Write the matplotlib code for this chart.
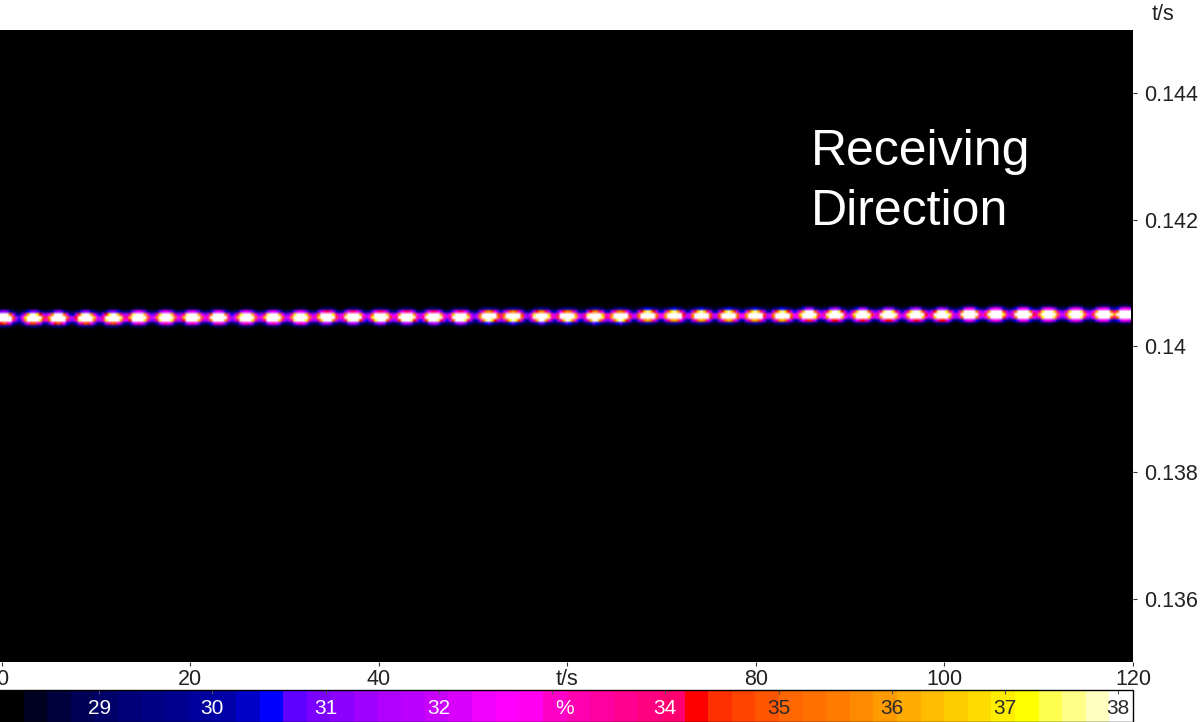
import numpy as np
import matplotlib
matplotlib.use("Agg")
import matplotlib.pyplot as plt
from matplotlib.colors import ListedColormap, Normalize
from matplotlib.cm import ScalarMappable

plt.rcParams['font.family'] = ['Liberation Sans', 'DejaVu Sans']

# blob centres (t/s along the bottom axis)
blob_t = [0.1, 3.2, 5.85, 8.8, 11.7, 14.4, 17.3, 20.1, 22.9, 25.85, 28.7,
          31.6, 34.4, 37.2, 40.1, 42.9, 45.75, 48.6, 51.6, 54.2, 57.2, 60.0,
          62.9, 65.6, 68.5, 71.3, 74.2, 77.1, 79.9, 82.8, 85.6, 88.4, 91.3,
          94.1, 97.0, 99.8, 102.7, 105.5, 108.4, 111.1, 114.0, 116.9, 119.3]
# and where each one sits on the right axis (t/s)
blob_y = [0.14044, 0.14044, 0.14044, 0.14044, 0.14044, 0.14045, 0.14045, 0.14045,
          0.14045, 0.14045, 0.14045, 0.14045, 0.14046, 0.14046, 0.14046, 0.14046,
          0.14046, 0.14046, 0.14047, 0.14047, 0.14047, 0.14047, 0.14047, 0.14047,
          0.14048, 0.14048, 0.14048, 0.14048, 0.14048, 0.14048, 0.14049, 0.14049,
          0.14049, 0.14049, 0.14049, 0.14049, 0.14050, 0.14050, 0.14050, 0.14050,
          0.14050, 0.14050, 0.14050]

x_ticks = [0, 20, 40, 60, 80, 100, 120]
x_labels = ['0', '20', '40', 't/s', '80', '100', '120']
y_ticks = [0.136, 0.138, 0.14, 0.142, 0.144]
y_labels = ['0.136', '0.138', '0.14', '0.142', '0.144']
bar_ticks = [29, 30, 31, 32, 33, 34, 35, 36, 37, 38]
bar_labels = ['29', '30', '31', '32', '%', '34', '35', '36', '37', '38']

# the 48 blocks of the scale, left to right
bar_colors = ['#000000', '#000020', '#00003c', '#000056', '#000068', '#000078',
              '#000084', '#000090', '#00009c', '#0000a8', '#0000c8', '#0000ff',
              '#6000ff', '#7c00ff', '#8c00ff', '#a000ff', '#b000ff', '#bc00ff',
              '#c800fc', '#d800fc', '#f000ff', '#ff00ff', '#ff00f0', '#ff00c8',
              '#ff00b0', '#ff00a0', '#ff0090', '#ff0080', '#ff0070', '#ff0000',
              '#ff3000', '#ff4400', '#ff5400', '#ff6600', '#ff7000', '#ff7c00',
              '#ff8a00', '#ff9a00', '#ffab00', '#ffbc00', '#ffcc00', '#ffdc00',
              '#ffee00', '#ffff00', '#ffff50', '#ffff88', '#ffffc0', '#ffffff']
bar_min, bar_max = 28.125, 38.13

W, H = 1200, 722
fig = plt.figure(figsize=(12, 7.22), dpi=100)
ax = fig.add_axes([0, (H - 662) / H, 1133 / W, 632 / H])
ax.set_facecolor('black')

cmap = ListedColormap(bar_colors)
norm = Normalize(bar_min, bar_max)

# only the band around the ridge holds anything, the rest is black
# coarse cells (about 3 px) blended in colour, the reference is a scaled up raster
tt = np.linspace(-0.18, 119.7, 378)
yy = np.linspace(0.1395, 0.1415, 43)
T, Y = np.meshgrid(tt, yy)
field = np.zeros_like(T)
for t0, y0 in zip(blob_t, blob_y):
    field += 20 * np.exp(-((T - t0) / 0.95) ** 2 - ((Y - y0) / 0.00008) ** 2)
ridge = np.interp(tt, blob_t, blob_y)
field = np.maximum(field, 3.2 * np.exp(-((Y - ridge) / 0.00003) ** 2))
field = np.clip(field + 28, bar_min - 0.1, bar_max)
ax.imshow(field, origin='lower', extent=[tt[0], tt[-1], yy[0], yy[-1]],
          aspect='auto', cmap=cmap, norm=norm, interpolation='bilinear',
          interpolation_stage='rgba')

ax.set_xlim(-0.18, 119.7)
ax.set_ylim(0.135, 0.145)
ax.set_xticks(x_ticks)
ax.set_xticklabels(x_labels, fontsize=15.5, color='#222222')
ax.yaxis.tick_right()
ax.set_yticks(y_ticks)
ax.set_yticklabels(y_labels, fontsize=15.5, color='#222222')
ax.tick_params(axis='x', length=3, width=0.8, color='#333333', pad=2)
ax.tick_params(axis='y', length=3, width=0.8, color='#333333', pad=5)
for s in ax.spines.values():
    s.set_visible(False)

ax.text(811 / 1133, (662 - 165) / 632, 'Receiving', transform=ax.transAxes,
        color='white', fontsize=36, ha='left', va='baseline')
ax.text(811 / 1133, (662 - 225) / 632, 'Direction', transform=ax.transAxes,
        color='white', fontsize=36, ha='left', va='baseline')
fig.text(1163 / W, 1 - 14 / H, 't/s', fontsize=15.5, color='#222222', ha='center', va='center')

# colour scale along the bottom edge, labels sit inside the bar
cax = fig.add_axes([0, 0, 1133 / W, 32 / H])
cb = fig.colorbar(ScalarMappable(norm=norm, cmap=cmap), cax=cax, orientation='horizontal')
cb.set_ticks(bar_ticks)
cb.set_ticklabels([])
cax.xaxis.set_ticks_position('top')
cax.tick_params(axis='x', length=3, width=0.8, direction='in', color='#555555')
cb.outline.set_linewidth(1.0)
cb.outline.set_edgecolor('black')
for v, lab in zip(bar_ticks, bar_labels):
    # the % sign sits a little right of its tick in the reference
    xpos = v + 0.11 if lab == '%' else v
    cax.text(xpos, 0.42, lab, transform=cax.get_xaxis_transform(), ha='center', va='center',
             fontsize=15, color='white' if v < 35 else '#2a2a2a')

fig.savefig('out.png', dpi=100)
